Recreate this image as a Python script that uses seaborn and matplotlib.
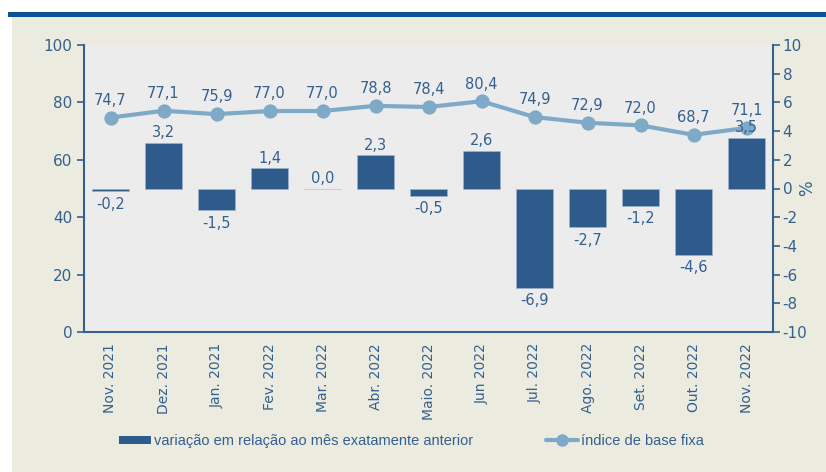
import pandas as pd
import matplotlib.pyplot as plt
import seaborn as sns
from matplotlib.patches import Rectangle, Patch
from matplotlib.lines import Line2D

# === Daten ===
meses = ["Nov. 2021", "Dez. 2021", "Jan. 2021", "Fev. 2022", "Mar. 2022", "Abr. 2022",
         "Maio. 2022", "Jun 2022", "Jul. 2022", "Ago. 2022", "Set. 2022", "Out. 2022", "Nov. 2022"]
indice = [74.7, 77.1, 75.9, 77.0, 77.0, 78.8, 78.4, 80.4, 74.9, 72.9, 72.0, 68.7, 71.1]
variacao = [-0.2, 3.2, -1.5, 1.4, 0.0, 2.3, -0.5, 2.6, -6.9, -2.7, -1.2, -4.6, 3.5]

df = pd.DataFrame({"mes": meses, "indice": indice, "variacao": variacao})

# === Farben ===
azul_escuro = "#2e5b8c"
azul_claro = "#7eaac8"
texto = "#34608f"
fundo = "#ecebe0"
fundo_plot = "#ececec"

sns.set_style("white")
plt.rcParams["font.family"] = ["DejaVu Sans"]
plt.rcParams["axes.unicode_minus"] = False

fig = plt.figure(figsize=(8.26, 4.72), dpi=100, facecolor="white")
fig.add_artist(Rectangle((12 / 826, 0), 1, 1 - 17 / 472, transform=fig.transFigure,
                         facecolor=fundo, edgecolor="none", zorder=-10))
fig.add_artist(Rectangle((8 / 826, 1 - 17 / 472), 1, 5 / 472, transform=fig.transFigure,
                         facecolor="#0b5394", edgecolor="none", zorder=-10))

ax = fig.add_axes([84 / 826, 1 - 332 / 472, (773 - 84) / 826, (332 - 45) / 472])
ax2 = ax.twinx()

# Balken (rechte Achse)
sns.barplot(data=df, x="mes", y="variacao", ax=ax2, color=azul_escuro, width=0.7,
            saturation=1, edgecolor="#9fb7d0", linewidth=0.4)
# Linie (linke Achse)
sns.pointplot(data=df, x="mes", y="indice", ax=ax, color=azul_claro, markers="o",
              markersize=8, linewidth=3)

ax.set_zorder(2)
ax2.set_zorder(1)
ax.patch.set_visible(False)
ax2.patch.set_visible(True)
ax2.patch.set_facecolor(fundo_plot)

ax.set_ylim(0, 100)
ax.set_yticks(range(0, 101, 20))
ax2.set_ylim(-10, 10)
ax2.set_yticks(range(-10, 11, 2))
ax.set_xlim(-0.5, len(meses) - 0.5)

ax.set_xticks(range(len(meses)))
ax.set_xticklabels(meses, rotation=90)
ax.set_xticks([i - 0.5 for i in range(len(meses) + 1)], minor=True)
ax.tick_params(axis="x", which="major", length=0, pad=8, labelsize=10, colors=texto)
ax.tick_params(axis="x", which="minor", length=5, width=1.2, color=texto, direction="out")
ax.tick_params(axis="y", length=5, width=1.2, colors=texto, labelsize=11, direction="out")
ax2.tick_params(axis="y", length=5, width=1.2, colors=texto, labelsize=11, direction="out", pad=2)
ax.set_xlabel("")
ax.set_ylabel("")
ax2.set_xlabel("")
ax2.set_ylabel("%", color=texto, fontsize=12, rotation=90, va="center", ha="center")
ax2.yaxis.set_label_coords(1.049, 0.5)
ax.grid(False)
ax2.grid(False)

for a in (ax, ax2):
    a.spines["top"].set_visible(False)
    for s in ("left", "right", "bottom"):
        a.spines[s].set_color(texto)
        a.spines[s].set_linewidth(1.5)
ax.spines["right"].set_visible(False)
ax2.spines["left"].set_visible(False)
ax2.spines["bottom"].set_visible(False)

# Beschriftungen (Balkenwerte auf der oberen Achse, damit sie vor der Linie liegen)
fmt = lambda v: f"{v:.1f}".replace(".", ",")
for i, v in enumerate(indice):
    ax.annotate(fmt(v), (i, v), xytext=(0, 7), textcoords="offset points",
                ha="center", va="bottom", fontsize=10.5, color=texto)
for i, v in enumerate(variacao):
    if v >= 0:
        ax.annotate(fmt(v), (i, v), xycoords=ax2.transData, xytext=(0, 2),
                    textcoords="offset points", ha="center", va="bottom",
                    fontsize=10.5, color=texto, zorder=5)
    else:
        ax.annotate(fmt(v), (i, v), xycoords=ax2.transData, xytext=(0, -4),
                    textcoords="offset points", ha="center", va="top",
                    fontsize=10.5, color=texto, zorder=5)

# Legende
handles = [Patch(facecolor=azul_escuro, edgecolor="none"),
           Line2D([0], [0], color=azul_claro, lw=3, marker="o", markersize=8)]
labels = ["variação em relação ao mês exatamente anterior", "índice de base fixa"]
fig.legend(handles, labels, loc="center left", bbox_to_anchor=(0.128, 0.066), ncol=2,
           frameon=False, handlelength=2.2, handleheight=0.5, columnspacing=5,
           handletextpad=0.2, prop={"family": "Liberation Sans", "size": 10.5},
           labelcolor=texto)

fig.savefig("out.png", dpi=100, facecolor=fig.get_facecolor())
